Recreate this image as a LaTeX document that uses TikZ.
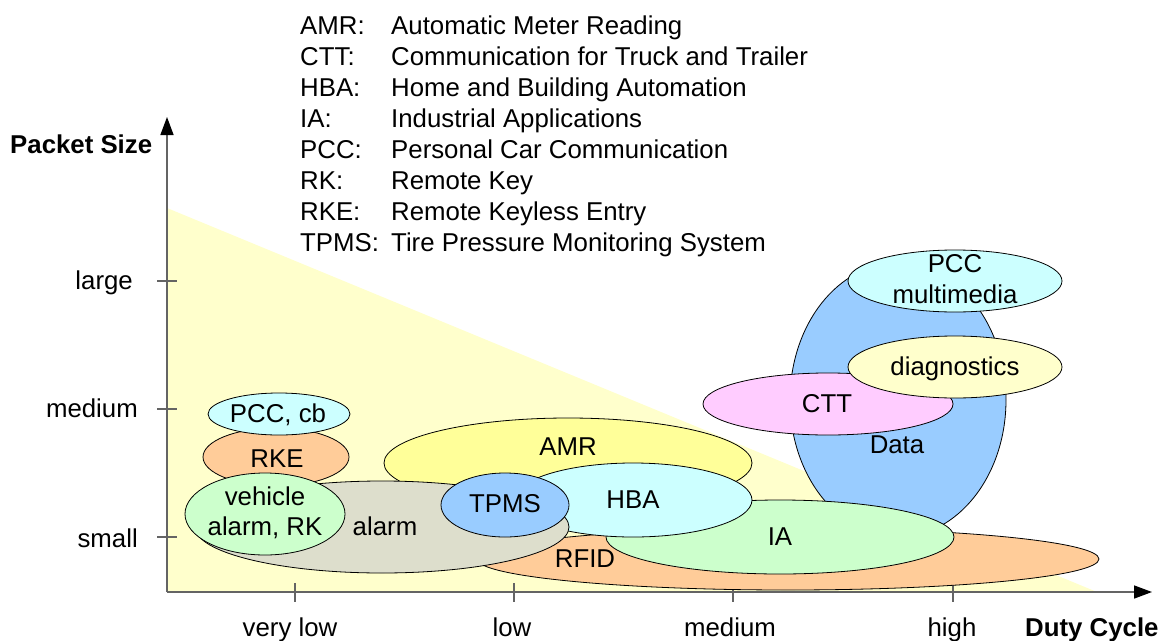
\documentclass[tikz,border=0pt]{standalone}
\usepackage{fontspec}
\setmainfont{Liberation Sans}
\usetikzlibrary{arrows.meta}
\definecolor{triyellow}{RGB}{255,255,204}
\definecolor{lcyan}{RGB}{204,255,255}
\definecolor{peach}{RGB}{255,204,153}
\definecolor{lgreen}{RGB}{204,255,204}
\definecolor{lgray}{RGB}{221,222,204}
\definecolor{yel}{RGB}{255,255,153}
\definecolor{lblue}{RGB}{153,204,255}
\definecolor{pink}{RGB}{255,204,255}
\definecolor{axisgray}{RGB}{100,100,100}
\tikzset{
  ell/.style={draw=black, line width=0.8pt},
  lbl/.style={inner sep=0pt, anchor=base, font=\fontsize{25.8}{31}\selectfont},
  lblw/.style={lbl, anchor=base west},
  lble/.style={lbl, anchor=base east},
  axis/.style={draw=axisgray, line width=1.5pt},
  tick/.style={draw=axisgray, line width=1.2pt},
}
\begin{document}
\begin{tikzpicture}[x=1pt,y=-1pt]
\useasboundingbox (0,0) rectangle (1162,640);
% background triangle
\fill[triyellow] (167,208) -- (167,592) -- (1097,592) -- cycle;
% axes
\coordinate (O) at (167,592);
\coordinate (ytip) at (167,117);
\coordinate (xtip) at (1152,592);
\draw[axis, -{Triangle[length=18pt,width=13pt,color=black,fill=black]}] (O) -- (ytip);
\draw[axis, -{Triangle[length=18pt,width=13pt,color=black,fill=black]}] (O) -- (xtip);
% y ticks
\foreach \yy/\nm in {281/tl,409/tm,537/ts} {
  \draw[tick] (157,\yy) -- (177,\yy);
}
% x ticks
\foreach \xx in {295,514,733,953} {
  \draw[tick] (\xx,583) -- (\xx,602);
}
% axis labels
\node[lblw, font=\fontsize{25.8}{31}\selectfont\bfseries] (ylab) at (10,153) {Packet Size};
\node[lblw, font=\fontsize{25.8}{31}\selectfont\bfseries] (xlab) at (1025,636) {Duty Cycle};
\node[lble] (large) at (133,289) {large};
\node[lble] (medy) at (138,417) {medium};
\node[lble] (small) at (138,547) {small};
\node[lbl] (vlow) at (290,636) {very low};
\node[lbl] (low) at (512,636) {low};
\node[lbl] (medx) at (730,636) {medium};
\node[lbl] (high) at (952,636) {high};
% legend
\foreach \i/\ab/\tx in {0/AMR:/Automatic Meter Reading,
                         1/CTT:/Communication for Truck and Trailer,
                         2/HBA:/Home and Building Automation,
                         3/IA:/Industrial Applications,
                         4/PCC:/Personal Car Communication,
                         5/RK:/Remote Key,
                         6/RKE:/Remote Keyless Entry,
                         7/TPMS:/Tire Pressure Monitoring System} {
  \node[lblw] (ab\i) at (300,{34+31*\i}) {\ab};
  \node[lblw] (tx\i) at (391,{34+31*\i}) {\tx};
}
% ellipses (back to front)
\path[ell, fill=peach] (788,559) ellipse (311 and 31);
\path[ell, fill=lblue] (898,400) ellipse (108 and 137);
\path[ell, fill=pink] (828,404) ellipse (125 and 31);
\path[ell, fill=triyellow] (955,367) ellipse (107 and 31);
\path[ell, fill=lcyan] (955,281) ellipse (107 and 31);
\path[ell, fill=yel] (568,463) ellipse (184 and 45);
\path[ell, fill=lgreen] (780,537) ellipse (174 and 37);
\path[ell, fill=lcyan] (633,500) ellipse (119 and 37);
\path[ell, fill=lgray] (382,527) ellipse (187 and 46);
\path[ell, fill=lblue] (505,505) ellipse (64 and 32);
\path[ell, fill=peach] (276,457) ellipse (73 and 29);
\path[ell, fill=lcyan] (279,414) ellipse (71 and 21);
\path[ell, fill=lgreen] (265,514) ellipse (80 and 41);
% ellipse labels
\node[lbl] (lrfid) at (585,567) {RFID};
\node[lbl] (ldata) at (897,453) {Data};
\node[lbl] (lctt) at (827,412) {CTT};
\node[lbl] (ldiag) at (955,375) {diagnostics};
\node[lbl] (lpcc1) at (955,272) {PCC};
\node[lbl] (lpcc2) at (955,303) {multimedia};
\node[lbl] (lamr) at (568,455) {AMR};
\node[lbl] (lia) at (780,545) {IA};
\node[lbl] (lhba) at (633,508) {HBA};
\node[lbl] (lalarm) at (385,535) {alarm};
\node[lbl] (ltpms) at (505,512) {TPMS};
\node[lbl] (lrke) at (277,467) {RKE};
\node[lbl] (lpcccb) at (278,422) {PCC, cb};
\node[lbl] (lveh1) at (265,505) {vehicle};
\node[lbl] (lveh2) at (265,535) {alarm, RK};
\end{tikzpicture}
\end{document}
